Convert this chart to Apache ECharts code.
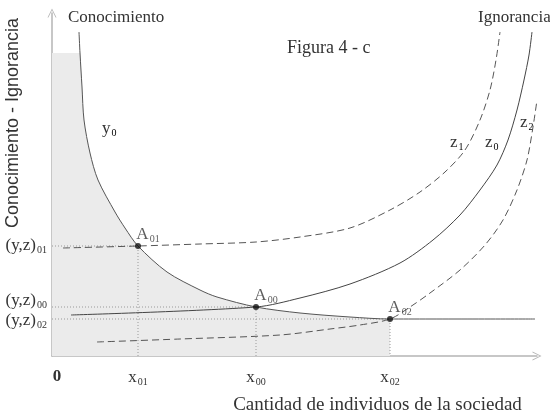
<!DOCTYPE html>
<html>
<head>
    <meta charset="utf-8">
    <title>Figura 4 - c</title>
    <script src="https://cdn.jsdelivr.net/npm/echarts@6/dist/echarts.min.js"></script>
</head>
<body style="margin:0;background-color:#fff">
<div id="main" style="width:550px;height:411px"></div>
<script type="text/javascript">
    // curves, [x, y] in axis units (x 0..485, y 0..343)
    var y0 = [[27, 324], [28, 303], [30, 269], [32, 236], [38, 203], [46, 176], [63, 144], [73, 128],
        [86, 110], [115, 84], [148, 66], [165, 59], [204, 49], [248, 43], [298, 39], [338, 37], [483, 37]];
    var z0 = [[19, 41], [204, 49], [248, 58], [298, 72], [348, 93], [381, 116], [408, 141], [428, 166],
        [445, 191], [456, 216], [465, 246], [472, 276], [477, 301], [480, 324]];
    var z1 = [[11, 108], [86, 110], [148, 112], [204, 114], [248, 119], [298, 128], [338, 146], [368, 164],
        [393, 184], [413, 206], [428, 236], [438, 266], [444, 296], [448, 324]];
    var z2 = [[45, 14], [128, 17], [228, 21], [278, 27], [308, 31], [338, 37], [358, 49], [378, 63],
        [408, 86], [433, 111], [451, 136], [465, 166], [475, 196], [481, 229], [485, 256]];

    // equilibrium points A01, A00, A02
    var pointNames = ['01', '00', '02'];
    var pointX = [86, 204, 338];
    var pointY = [110, 49, 37];
    var shadeTop = 303;

    var serif = 'Liberation Serif';
    var textColor = '#333';

    // shaded area under y0, cut at the top and at x02
    var shade = [[0, shadeTop]];
    y0.forEach(function (p) {
        if (p[0] <= pointX[2]) shade.push([p[0], Math.min(p[1], shadeTop)]);
    });

    var sub = function () {
        return {fontFamily: serif, fontSize: 10, color: textColor, verticalAlign: 'bottom', padding: [9, 0, 0, 1]};
    };

    var series = [
        {
            type: 'line', data: shade, smooth: 0.3, symbol: 'none', silent: true,
            lineStyle: {width: 0}, areaStyle: {color: '#ebebeb', opacity: 1}, z: 1
        }
    ];

    // dotted guides from the axes to each point
    for (var i = 0; i < pointX.length; i++) {
        series.push({
            type: 'line', symbol: 'none', silent: true, z: 2,
            data: [[0, pointY[i]], [pointX[i], pointY[i]], [pointX[i], 0]],
            lineStyle: {color: '#999', width: 1, type: [1, 2]}
        });
    }

    series.push(
        {type: 'line', data: y0, smooth: 0.3, symbol: 'none', z: 3, lineStyle: {color: '#555', width: 1}},
        {type: 'line', data: z0, smooth: 0.3, symbol: 'none', z: 3, lineStyle: {color: '#444', width: 1}},
        {type: 'line', data: z1, smooth: 0.3, symbol: 'none', z: 3, lineStyle: {color: '#555', width: 1, type: [7, 4]}},
        {type: 'line', data: z2, smooth: 0.3, symbol: 'none', z: 3, lineStyle: {color: '#555', width: 1, type: [7, 4]}},
        {
            type: 'scatter', z: 4, symbolSize: 6, itemStyle: {color: '#111'},
            data: pointX.map(function (x, k) { return [x, pointY[k]]; }),
            label: {
                show: true, position: 'top', offset: [10, 6],
                formatter: function (p) { return '{a|A}{s|' + pointNames[p.dataIndex] + '}'; },
                rich: {a: {fontFamily: serif, fontSize: 17, color: textColor}, s: sub()}
            }
        }
    );

    var chevron = 'path://M0,10L5,0L10,10L9,10L5,2L1,10Z';
    var axisLine = {show: true, symbol: ['none', chevron], symbolSize: [9, 10], lineStyle: {color: '#b5b5b5', width: 1.5}};

    var option = {
        animation: false,
        grid: {left: 52, top: 13, width: 485, height: 343, outerBoundsMode: 'none'},
        xAxis: {
            type: 'value', min: 0, max: 485,
            axisLine: axisLine, axisTick: {show: false}, splitLine: {show: false},
            axisLabel: {
                customValues: [0].concat(pointX), margin: 12,
                formatter: function (v) {
                    if (v === 0) return '{z|0}';
                    return '{x|x}{s|' + pointNames[pointX.indexOf(v)] + '}';
                },
                rich: {
                    z: {fontFamily: serif, fontSize: 17, fontWeight: 'bold', color: textColor, padding: [0, 0, 0, 10]},
                    x: {fontFamily: serif, fontSize: 17, color: textColor},
                    s: sub()
                }
            },
            name: 'Cantidad de individuos de la sociedad', nameLocation: 'middle', nameGap: 40,
            nameTextStyle: {fontFamily: serif, fontSize: 19, color: textColor, padding: [0, 0, 0, 166]}
        },
        yAxis: {
            type: 'value', min: 0, max: 343,
            axisLine: axisLine, axisTick: {show: false}, splitLine: {show: false},
            axisLabel: {
                customValues: pointY, margin: 5,
                formatter: function (v) {
                    var k = pointY.indexOf(v);
                    if (k === 1) return '{mu|(y,z)}{su|00}';
                    if (k === 2) return '{md|(y,z)}{sd|02}';
                    return '{m|(y,z)}{s|' + pointNames[k] + '}';
                },
                rich: {
                    m: {fontFamily: serif, fontSize: 17, color: textColor},
                    s: sub(),
                    mu: {fontFamily: serif, fontSize: 17, color: textColor, padding: [0, 0, 12, 0]},
                    su: {fontFamily: serif, fontSize: 10, color: textColor, verticalAlign: 'bottom', padding: [9, 0, 12, 1]},
                    md: {fontFamily: serif, fontSize: 17, color: textColor, padding: [4, 0, 0, 0]},
                    sd: {fontFamily: serif, fontSize: 10, color: textColor, verticalAlign: 'bottom', padding: [13, 0, 0, 1]}
                }
            }
        },
        graphic: [
            {type: 'text', x: 13, y: 123, rotation: Math.PI / 2,
                style: {text: 'Conocimiento - Ignorancia', font: '18px "Liberation Sans"', fill: textColor, align: 'center', verticalAlign: 'middle'}},
            {type: 'text', x: 68, y: 18, style: {text: 'Conocimiento', font: '17px "Liberation Serif"', fill: textColor, verticalAlign: 'middle'}},
            {type: 'text', x: 478, y: 18, style: {text: 'Ignorancia', font: '17px "Liberation Serif"', fill: textColor, verticalAlign: 'middle'}},
            {type: 'text', x: 287, y: 48, style: {text: 'Figura 4 - c', font: '18px "Liberation Serif"', fill: textColor, verticalAlign: 'middle'}},
            {type: 'text', x: 102, y: 119, style: {text: '{v|y}{s|0}', rich: {v: {fontFamily: serif, fontSize: 17, fill: textColor}, s: sub()}}},
            {type: 'text', x: 450, y: 133, style: {text: '{v|z}{s|1}', rich: {v: {fontFamily: serif, fontSize: 17, fill: textColor}, s: sub()}}},
            {type: 'text', x: 485, y: 133, style: {text: '{v|z}{s|0}', rich: {v: {fontFamily: serif, fontSize: 17, fill: textColor}, s: sub()}}},
            {type: 'text', x: 520, y: 113, style: {text: '{v|z}{s|2}', rich: {v: {fontFamily: serif, fontSize: 17, fill: textColor}, s: sub()}}},
            {type: 'text', x: 100, y: 281, style: {text: '{v|α}{s|02}', rich: {v: {fontFamily: serif, fontSize: 17, fill: textColor}, s: sub()}}}
        ],
        series: series
    };

    var myChart = echarts.init(document.getElementById('main'));
    myChart.setOption(option);
</script>
</body>
</html>
